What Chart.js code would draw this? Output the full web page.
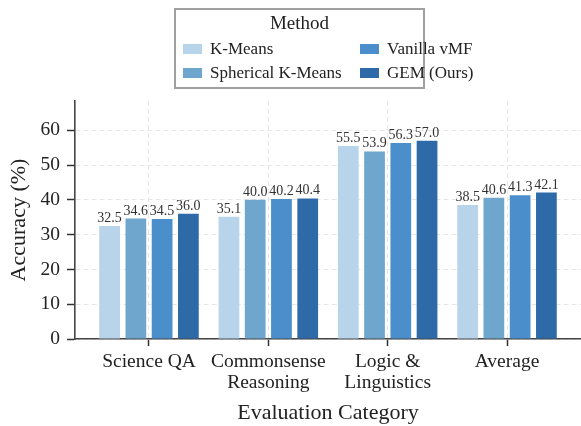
<!DOCTYPE html>
<html><head><meta charset="utf-8">
<script src="https://cdn.jsdelivr.net/npm/chart.js@4"></script>
<style>html,body{margin:0;padding:0;background:#fff;}canvas{display:block;}</style>
</head><body>
<canvas id="c" width="581" height="426"></canvas>
<script>
const categories = [['Science QA'], ['Commonsense', 'Reasoning'], ['Logic &', 'Linguistics'], ['Average']];
const methods = ['K-Means', 'Spherical K-Means', 'Vanilla vMF', 'GEM (Ours)'];
const kmeansValues = [32.5, 35.1, 55.5, 38.5];
const sphericalValues = [34.6, 40.0, 53.9, 40.6];
const vanillaValues = [34.5, 40.2, 56.3, 41.3];
const gemValues = [36.0, 40.4, 57.0, 42.1];
const yTickValues = [0, 10, 20, 30, 40, 50, 60];
const legendTitle = 'Method';
const xTitle = 'Evaluation Category';
const yTitle = 'Accuracy (%)';

const colors = ['#b8d4ea', '#6ea6cd', '#4a8fcb', '#2e6aa8'];
const seriesValues = [kmeansValues, sphericalValues, vanillaValues, gemValues];
const FONT = "'Liberation Serif', 'Times New Roman', serif";

const datasets = methods.map((m, k) => ({
  label: m,
  data: seriesValues[k].map((v, i) => ({x: i, y: v})),
  backgroundColor: colors[k],
  borderWidth: 0,
  categoryPercentage: 0.88,
  barPercentage: 0.79
}));

const valueLabels = {
  id: 'valueLabels',
  afterDatasetsDraw(chart) {
    const ctx = chart.ctx;
    ctx.save();
    ctx.font = '14px ' + FONT;
    ctx.fillStyle = '#333333';
    ctx.textAlign = 'center';
    ctx.textBaseline = 'alphabetic';
    chart.data.datasets.forEach((ds, k) => {
      const meta = chart.getDatasetMeta(k);
      meta.data.forEach((el, i) => {
        ctx.fillText(ds.data[i].y.toFixed(1), el.x, el.y - 4);
      });
    });
    ctx.restore();
  }
};

const boxLegend = {
  id: 'boxLegend',
  afterDraw(chart) {
    const ctx = chart.ctx;
    ctx.save();
    const bx = 175, by = 9, bw = 249, bh = 79;
    ctx.fillStyle = '#ffffff';
    ctx.fillRect(bx, by, bw, bh);
    ctx.strokeStyle = '#a0a0a0';
    ctx.lineWidth = 2;
    ctx.strokeRect(bx, by, bw, bh);
    ctx.fillStyle = '#222222';
    ctx.textAlign = 'center';
    ctx.textBaseline = 'middle';
    ctx.font = '19px ' + FONT;
    ctx.fillText(legendTitle, bx + bw / 2, 24);
    ctx.font = '17px ' + FONT;
    ctx.textAlign = 'left';
    const colX = [183, 360];
    const rowY = [49, 73];
    chart.data.datasets.forEach((ds, k) => {
      const col = Math.floor(k / 2), row = k % 2;
      ctx.fillStyle = ds.backgroundColor;
      ctx.fillRect(colX[col], rowY[row] - 5, 19, 10);
      ctx.fillStyle = '#222222';
      ctx.fillText(ds.label, colX[col] + 27, rowY[row] + 1);
    });
    ctx.restore();
  }
};

new Chart(document.getElementById('c'), {
  type: 'bar',
  data: { datasets },
  plugins: [valueLabels, boxLegend],
  options: {
    responsive: false,
    devicePixelRatio: 1,
    animation: false,
    layout: { padding: { top: 101, left: 0, right: 0, bottom: 0 } },
    plugins: { legend: { display: false }, tooltip: { enabled: false } },
    scales: {
      x: {
        type: 'linear',
        offset: false,
        min: -0.62,
        max: 3.62,
        afterBuildTicks: s => { s.ticks = categories.map((c, i) => ({value: i})); },
        afterFit: s => { s.height = 87; },
        ticks: {
          callback: v => categories[v],
          font: { family: FONT, size: 19.5, lineHeight: 1.08 },
          color: '#222222',
          padding: 5,
          maxRotation: 0,
          autoSkip: false
        },
        grid: { offset: false, color: '#e6e6e6', lineWidth: 1, tickColor: '#333333', tickLength: 7, tickWidth: 1.5 },
        border: { color: '#444444', width: 1.6, dash: [5, 3] },
        title: { display: true, text: xTitle, font: { family: FONT, size: 22 }, color: '#222222', padding: { top: 2, bottom: 0 } }
      },
      y: {
        min: 0,
        max: 68.4,
        afterBuildTicks: s => { s.ticks = yTickValues.map(v => ({value: v})); },
        afterFit: s => { s.width = 75; },
        ticks: {
          font: { family: FONT, size: 19.5 },
          color: '#222222',
          padding: 7
        },
        grid: { color: '#e6e6e6', lineWidth: 1, tickColor: '#333333', tickLength: 8, tickWidth: 1.5 },
        border: { color: '#444444', width: 1.6, dash: [5, 3] },
        title: { display: true, text: yTitle, font: { family: FONT, size: 22 }, color: '#222222', padding: { top: 6, bottom: 0 } }
      }
    }
  }
});
</script>
</body></html>
